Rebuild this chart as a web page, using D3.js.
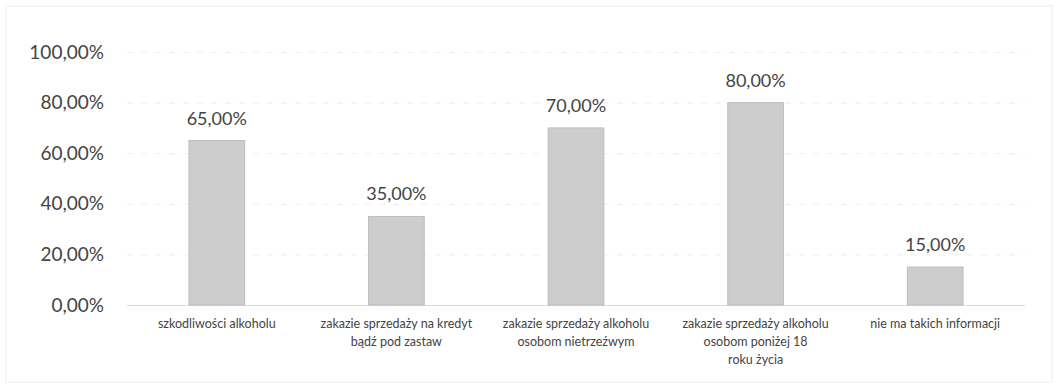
<!DOCTYPE html>
<html><head><meta charset="utf-8">
<script src="https://cdn.jsdelivr.net/npm/d3@7"></script>
<style>body{margin:0;background:#fff}svg{display:block}</style>
</head><body>
<svg id="c" width="1059" height="389"></svg>
<script>
const categories = [
  ["szkodliwości alkoholu"],
  ["zakazie sprzedaży na kredyt", "bądź pod zastaw"],
  ["zakazie sprzedaży alkoholu", "osobom nietrzeźwym"],
  ["zakazie sprzedaży alkoholu", "osobom poniżej 18", "roku życia"],
  ["nie ma takich informacji"]
];
const values = [0.65, 0.35, 0.70, 0.80, 0.15];
const yTicks = [0, 0.2, 0.4, 0.6, 0.8, 1.0];

const fmt = v => (v * 100).toFixed(2).replace(".", ",") + "%";
const svg = d3.select("#c");
const font = "Lato, 'Open Sans', sans-serif";

const x = d3.scaleBand().domain(d3.range(values.length)).range([127, 1025]).padding(0);
const y = d3.scaleLinear().domain([0, 1]).range([305, 52]);
const barW = x.bandwidth() * 0.31;

// faint frame
svg.append("rect").attr("x", 6).attr("y", 6).attr("width", 1046).attr("height", 376)
  .attr("fill", "none").attr("stroke", "#eeeeee").attr("stroke-width", 1);

// gridlines
svg.append("g").selectAll("line").data(yTicks).join("line")
  .attr("x1", 127).attr("x2", 1025)
  .attr("y1", d => y(d) + 0.5).attr("y2", d => y(d) + 0.5)
  .attr("stroke", d => d === 0 ? "#d9d9d9" : "#ededed")
  .attr("stroke-dasharray", d => d === 0 ? null : "6,8")
  .attr("stroke-width", 1);

// y axis labels
const yAxis = d3.axisLeft(y).tickValues(yTicks).tickFormat(fmt).tickSize(0).tickPadding(0);
const ga = svg.append("g").attr("transform", "translate(104,0)").call(yAxis);
ga.select(".domain").remove();
ga.selectAll("text").attr("font-family", font).attr("font-size", 19).attr("fill", "#444");

// bars
svg.append("g").selectAll("rect").data(values).join("rect")
  .attr("x", (d, i) => x(i) + x.bandwidth() / 2 - barW / 2)
  .attr("y", d => y(d))
  .attr("width", barW)
  .attr("height", d => y(0) - y(d))
  .attr("fill", "#cdcdcd")
  .attr("stroke", "#bdbdbd").attr("stroke-width", 1);

// value labels
svg.append("g").selectAll("text").data(values).join("text")
  .attr("x", (d, i) => x(i) + x.bandwidth() / 2)
  .attr("y", d => y(d) - 16)
  .attr("text-anchor", "middle")
  .attr("font-family", font).attr("font-size", 18).attr("fill", "#444")
  .text(d => fmt(d));

// category labels
const cg = svg.append("g").selectAll("text").data(categories).join("text")
  .attr("x", (d, i) => x(i) + x.bandwidth() / 2)
  .attr("y", 328)
  .attr("text-anchor", "middle")
  .attr("font-family", font).attr("font-size", 12.5).attr("fill", "#444");
cg.selectAll("tspan").data(d => d).join("tspan")
  .attr("x", function () { return d3.select(this.parentNode).attr("x"); })
  .attr("dy", (d, j) => j === 0 ? 0 : 18)
  .text(d => d);
</script>
</body></html>
